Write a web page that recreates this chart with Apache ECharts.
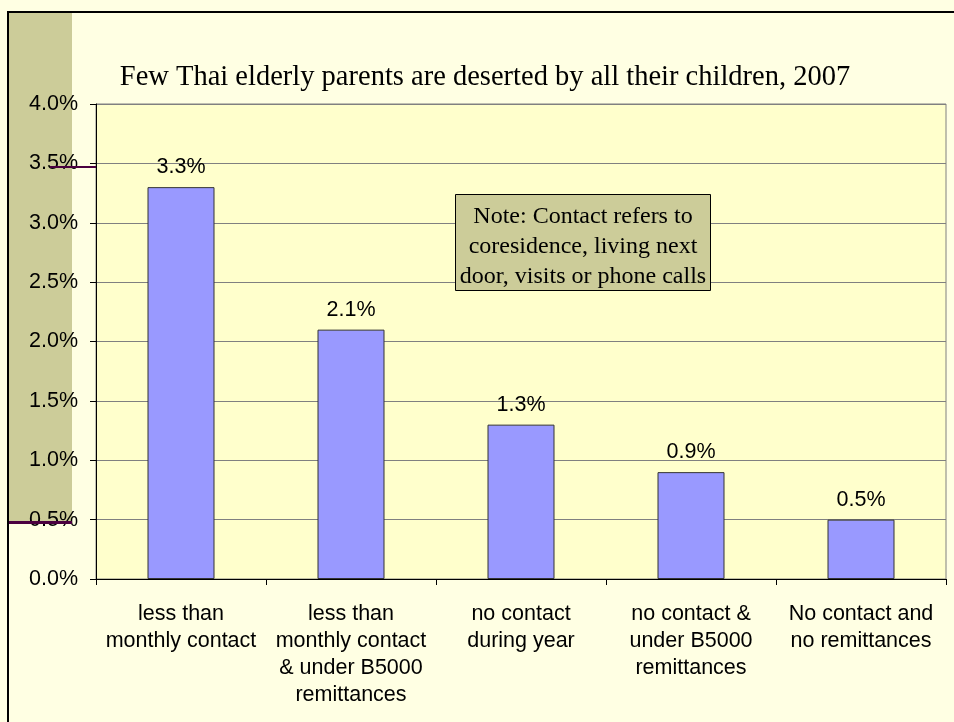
<!DOCTYPE html>
<html>
<head>
<meta charset="utf-8">
<script src="https://cdn.jsdelivr.net/npm/echarts@6/dist/echarts.min.js"></script>
<style>
html,body{margin:0;padding:0;background:#FFFFE3;}
#main{width:954px;height:722px;}
</style>
</head>
<body>
<div id="main"></div>
<script>
const categories = [
  "less than\nmonthly contact",
  "less than\nmonthly contact\n& under B5000\nremittances",
  "no contact\nduring year",
  "no contact &\nunder B5000\nremittances",
  "No contact and\nno remittances"
];
const values = [3.3, 2.1, 1.3, 0.9, 0.5];
const titleText = "Few Thai elderly parents are deserted by all their children, 2007";
const noteText = "Note: Contact refers to\ncoresidence, living next\ndoor, visits or phone calls";

const chart = echarts.init(document.getElementById('main'));
chart.setOption({
  backgroundColor: '#FFFFE3',
  animation: false,
  title: {
    text: titleText,
    left: 480,
    textAlign: 'center',
    top: 58,
    textStyle: {fontFamily: 'Liberation Serif', fontSize: 28.5, fontWeight: 'normal', color: '#000'}
  },
  grid: {
    left: 96, top: 104, right: 8, bottom: 143,
    show: true, backgroundColor: '#FFFFCC', borderColor: '#808080', borderWidth: 1
  },
  xAxis: {
    type: 'category',
    data: categories,
    axisLine: {lineStyle: {color: '#000', width: 1}},
    axisTick: {show: true, alignWithLabel: false, length: 6, lineStyle: {color: '#000'}},
    axisLabel: {
      interval: 0, margin: 22,
      fontFamily: 'Liberation Sans', fontSize: 21.5, lineHeight: 27, color: '#000'
    }
  },
  yAxis: {
    type: 'value',
    min: 0, max: 4, interval: 0.5,
    axisLine: {show: true, lineStyle: {color: '#000', width: 1}},
    axisTick: {show: true, length: 6, lineStyle: {color: '#000'}},
    splitLine: {show: true, lineStyle: {color: '#808080', width: 1}},
    axisLabel: {
      margin: 18,
      fontFamily: 'Liberation Sans', fontSize: 21.5, color: '#000',
      formatter: v => v.toFixed(1) + '%'
    }
  },
  series: [{
    type: 'bar',
    data: values,
    barWidth: 67,
    itemStyle: {color: '#9999FF', borderColor: '#333333', borderWidth: 1},
    label: {
      show: true, position: 'top', distance: 9,
      fontFamily: 'Liberation Sans', fontSize: 21.5, color: '#000',
      formatter: p => p.value.toFixed(1) + '%'
    }
  }],
  graphic: [
    {type: 'rect', z: -10, silent: true, shape: {x: 9, y: 13, width: 63, height: 509}, style: {fill: '#CCCC99'}},
    {type: 'rect', z: 50, silent: true, shape: {x: 9, y: 521, width: 63, height: 3}, style: {fill: '#4B0040'}},
    {type: 'rect', z: 50, silent: true, shape: {x: 50, y: 166, width: 46, height: 2}, style: {fill: '#4B0040'}},
    {type: 'rect', z: 60, silent: true, shape: {x: 8, y: 12, width: 1000, height: 800}, style: {fill: 'none', stroke: '#000', lineWidth: 2}},
    {type: 'rect', z: 100, silent: true, shape: {x: 455.5, y: 194.5, width: 255, height: 96}, style: {fill: '#CCCC99', stroke: '#000', lineWidth: 1}},
    {type: 'text', z: 101, silent: true, x: 583, y: 247,
      style: {text: noteText, font: '24px "Liberation Serif"', fill: '#000', align: 'center', verticalAlign: 'middle', lineHeight: 30}}
  ]
});
</script>
</body>
</html>
